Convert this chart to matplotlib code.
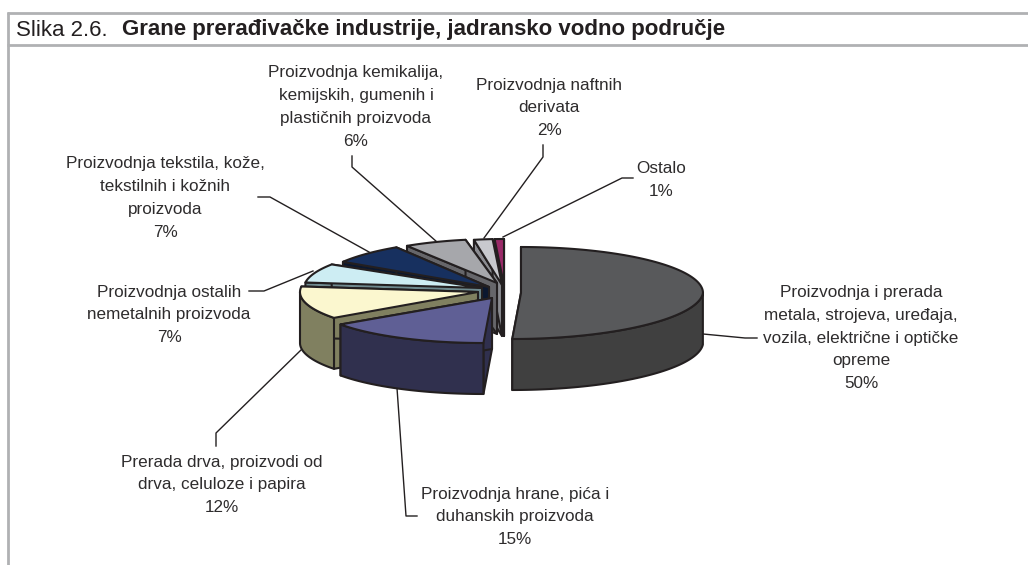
import numpy as np
import matplotlib
matplotlib.use("Agg")
import matplotlib.pyplot as plt

# data
labels = [
    "Proizvodnja i prerada\nmetala, strojeva, uređaja,\nvozila, električne i optičke\nopreme\n50%",
    "Proizvodnja hrane, pića i\nduhanskih proizvoda\n15%",
    "Prerada drva, proizvodi od\ndrva, celuloze i papira\n12%",
    "Proizvodnja ostalih\nnemetalnih proizvoda\n7%",
    "Proizvodnja tekstila, kože,\ntekstilnih i kožnih\nproizvoda\n7%",
    "Proizvodnja kemikalija,\nkemijskih, gumenih i\nplastičnih proizvoda\n6%",
    "Proizvodnja naftnih\nderivata\n2%",
    "Ostalo\n1%",
]
values = [50, 15, 12, 7, 7, 6, 2, 1]
top_colors = ["#58595b", "#5f5f95", "#fbf7cf", "#cdedf3", "#17305f", "#a6a7ab", "#c8c9ce", "#9a2a68"]
side_colors = ["#404040", "#30304e", "#808060", "#6f8a8f", "#0b1830", "#66666a", "#8b8c91", "#5a1a40"]

# layout of the exploded slices
cx = [521, 492, 478, 482, 489, 497, 502, 504]
cy = [293, 298, 292, 288, 287, 283, 285, 285]
rx = [182, 181, 178, 178, 173, 168, 150, 150]
ry = [46, 45, 44, 44, 47, 44, 46, 46]
skew = [0.19, 0.19, 0, 0, 0, 0, 0, 0]
depth = 51
label_x = [861, 515, 222, 169, 165, 356, 549, 661]
label_y = [338, 517, 485, 315, 198, 107, 108, 180]
leaders = [
    ([703, 745, 757], [334, 338, 338]),
    ([397, 406, 417], [388, 516, 516]),
    ([301, 216, 216], [350, 433, 446]),
    ([313, 264, 249], [271, 291, 291]),
    ([369, 270, 258], [252, 197, 197]),
    ([437, 352, 352], [242, 167, 156]),
    ([484, 543, 543], [238, 157, 145]),
    ([503, 622, 633], [237, 178, 178]),
]

fig = plt.figure(figsize=(10.28, 5.65), dpi=100)
ax = fig.add_axes([0, 0, 1, 1])
ax.set_xlim(0, 1028)
ax.set_ylim(565, 0)
ax.axis("off")

# frame and title band
frame = "#b0b1b3"
ax.plot([6.5, 1028], [13, 13], color=frame, lw=2.0, solid_capstyle="butt")
ax.plot([6.5, 1028], [44.5, 44.5], color=frame, lw=2.0, solid_capstyle="butt")
ax.plot([7.5, 7.5], [12, 565], color=frame, lw=2.0, solid_capstyle="butt")
ax.text(16, 30, "Slika 2.6.", family="Liberation Sans", fontsize=16, va="center", color="#231f20")
ax.text(122, 30, "Grane prerađivačke industrije, jadransko vodno područje", family="Liberation Sans",
        fontsize=16, fontweight="bold", va="center", color="#231f20")


def project(i, a):
    x = cx[i] + rx[i] * np.sin(a)
    y = cy[i] - ry[i] * np.cos(a)
    x = x - skew[i] * np.maximum(0, y - cy[i])
    return x, y


# slice angles, clockwise from the top
ends = np.cumsum(values) / sum(values) * 2 * np.pi
starts = np.concatenate(([0], ends[:-1]))

for xs, ys in leaders:
    ax.plot(xs, ys, color="#231f20", lw=1.0, zorder=1)

# back slices first, so the front ones cover them
zo = 2
for i in reversed(range(len(values))):
    a = np.linspace(starts[i], ends[i], 120)
    x, y = project(i, a)
    ec = "#231f20"
    # radial walls
    for e in [0, -1]:
        wx = [cx[i], x[e], x[e], cx[i]]
        wy = [cy[i], y[e], y[e] + depth, cy[i] + depth]
        ax.fill(wx, wy, fc=side_colors[i], ec=ec, lw=1.5, joinstyle="round", zorder=zo)
    # outer wall, front half only
    front = np.cos(a) < 0
    if front.any():
        fx, fy = x[front], y[front]
        ax.fill(np.r_[fx, fx[::-1]], np.r_[fy, fy[::-1] + depth], fc=side_colors[i], ec=ec, lw=1.5,
                joinstyle="round", zorder=zo)
    # top face
    ax.fill(np.r_[cx[i], x], np.r_[cy[i], y], fc=top_colors[i], ec=ec, lw=1.5, joinstyle="round", zorder=zo)
    zo += 1

for lab, lx, ly in zip(labels, label_x, label_y):
    ax.text(lx, ly, lab, family="Liberation Sans", fontsize=12.3, ha="center", va="center",
            linespacing=1.64, color="#2e2c2d", zorder=20)

fig.savefig("out.png", dpi=100)
